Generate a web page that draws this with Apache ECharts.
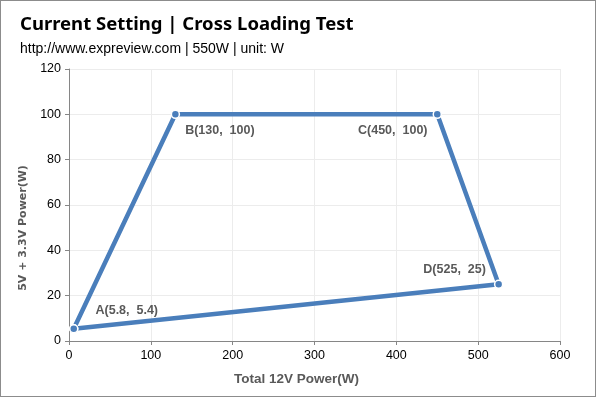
<!DOCTYPE html>
<html>
<head>
<meta charset="utf-8">
<script src="https://cdn.jsdelivr.net/npm/echarts@6/dist/echarts.min.js"></script>
<style>
html, body { margin: 0; padding: 0; background: #fff; }
#main { width: 596px; height: 397px; box-sizing: border-box; border: 1px solid #8c8c8c; }
</style>
</head>
<body>
<div id="main"></div>
<script>
var chart = echarts.init(document.getElementById('main'));

// corners of the cross loading area, closed back to A
var pointNames = ['A', 'B', 'C', 'D', 'A'];
var power12V = [5.8, 130, 450, 525, 5.8];
var power5V33V = [5.4, 100, 100, 25, 5.4];

// label placement per point
var labelPos = ['right', 'right', 'left', 'left', 'right'];
var labelOffset = [[12, -18], [0, 16], [0, 16], [-3, -15], [0, 0]];

var lineData = [];
for (var i = 0; i < pointNames.length; i++) {
  var last = i === pointNames.length - 1;
  lineData.push({
    value: [power12V[i], power5V33V[i]],
    label: {
      show: !last,
      position: labelPos[i],
      offset: labelOffset[i],
      formatter: pointNames[i] + '(' + power12V[i] + ',  ' + power5V33V[i] + ')'
    }
  });
}

var option = {
  backgroundColor: '#fff',
  animation: false,
  title: {
    left: 14,
    top: 9,
    text: 'Current Setting | Cross Loading Test',
    subtext: 'http://www.expreview.com | 550W | unit: W',
    itemGap: 8,
    textStyle: { fontFamily: 'Noto Sans', fontWeight: 'bold', fontSize: 18.5, color: '#000' },
    subtextStyle: { fontFamily: 'Arial', fontSize: 14, color: '#000' }
  },
  grid: { left: 68, right: 35, top: 68, bottom: 55 },
  xAxis: {
    type: 'value',
    min: 0, max: 600, interval: 100,
    name: 'Total 12V Power(W)',
    nameLocation: 'middle',
    nameGap: 31,
    nameTextStyle: { color: '#595959', fontWeight: 'bold', fontSize: 13.5, fontFamily: 'Arial', padding: [0, 36, 0, 0] },
    axisLine: { show: true, lineStyle: { color: '#868686' } },
    axisTick: { show: true, length: 4, lineStyle: { color: '#868686' } },
    axisLabel: { color: '#000', fontSize: 12.5, fontFamily: 'Arial', margin: 8 },
    splitLine: { show: true, lineStyle: { color: '#ececec' } }
  },
  yAxis: {
    type: 'value',
    min: 0, max: 120, interval: 20,
    name: '5V + 3.3V Power(W)',
    nameLocation: 'middle',
    nameGap: 40,
    nameTextStyle: { color: '#595959', fontWeight: 'bold', fontSize: 11, fontFamily: 'DejaVu Sans', padding: [0, 46, 0, 0] },
    axisLine: { show: true, lineStyle: { color: '#868686' } },
    axisTick: { show: true, length: 4, lineStyle: { color: '#868686' } },
    axisLabel: { color: '#000', fontSize: 12.5, fontFamily: 'Arial', margin: 8 },
    splitLine: { show: true, lineStyle: { color: '#ececec' } }
  },
  series: [{
    type: 'line',
    data: lineData,
    symbol: 'circle',
    symbolSize: 8,
    itemStyle: { color: '#4a7ebb', borderColor: '#fff', borderWidth: 1.5 },
    lineStyle: { color: '#4a7ebb', width: 4.5 },
    label: {
      color: '#595959',
      fontWeight: 'bold',
      fontSize: 12.5,
      fontFamily: 'Arial',
      distance: 5
    }
  }]
};
chart.setOption(option);
</script>
</body>
</html>
